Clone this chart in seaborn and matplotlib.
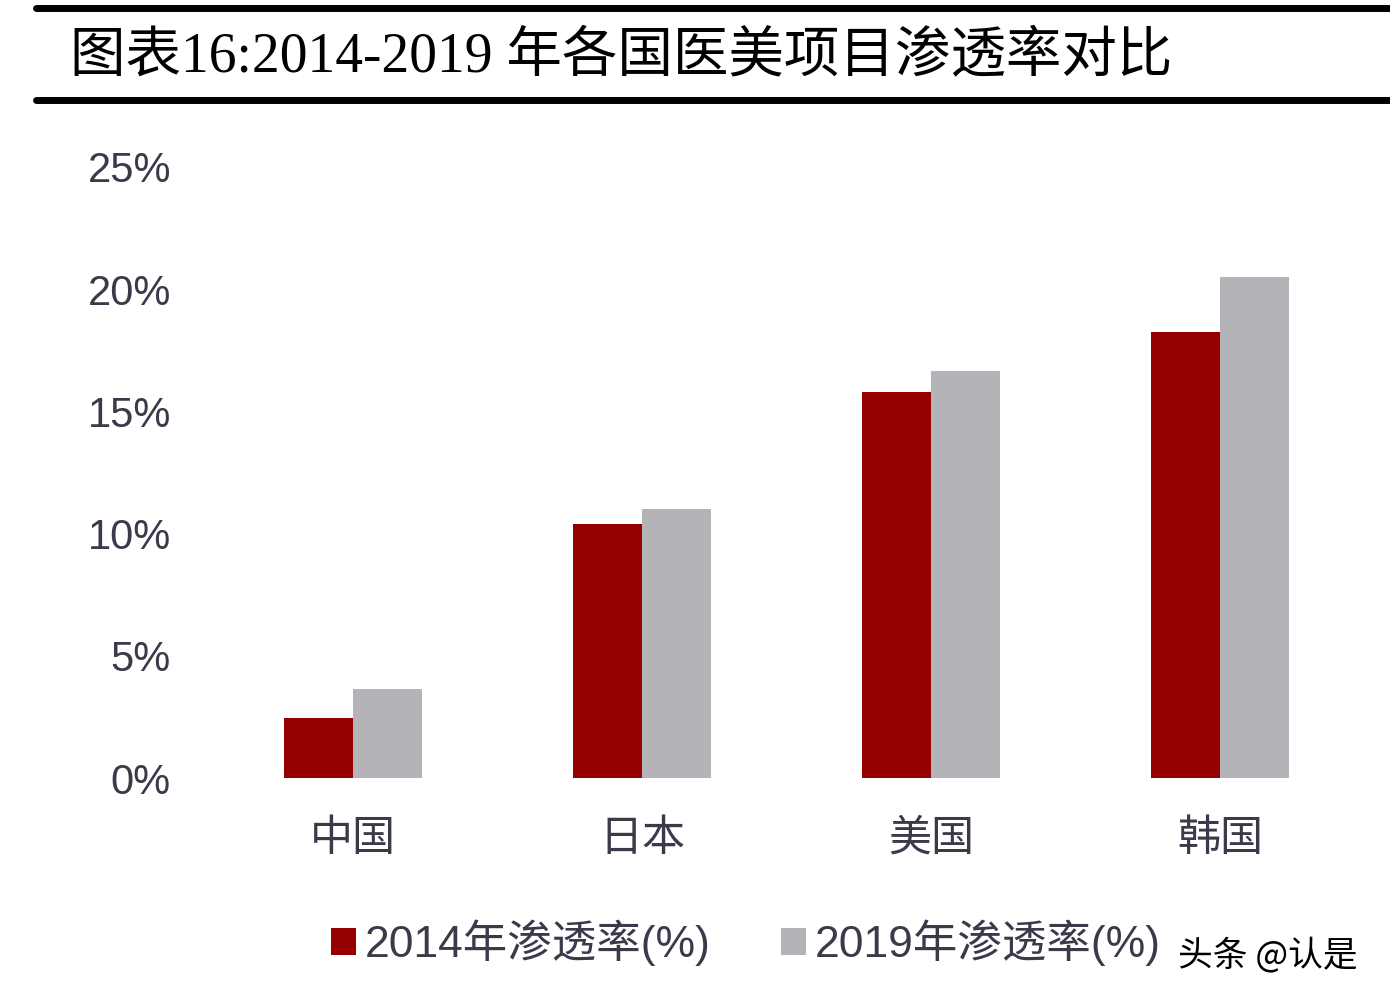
import pandas as pd
import matplotlib.pyplot as plt
import seaborn as sns
from matplotlib import font_manager
from matplotlib.lines import Line2D

# Data (percent)
countries = ['中国', '日本', '美国', '韩国']
rate_2014 = [2.45, 10.4, 15.8, 18.25]
rate_2019 = [3.65, 11.0, 16.65, 20.5]
series_names = ['2014年渗透率(%)', '2019年渗透率(%)']
yticks = [0, 5, 10, 15, 20, 25]

sns.set_style('white')
cjk = 'Noto Sans CJK SC'
names = {f.name for f in font_manager.fontManager.ttflist}
num_font = 'Liberation Sans Narrow' if 'Liberation Sans Narrow' in names else 'Liberation Sans'
plt.rcParams['font.family'] = [cjk, 'DejaVu Sans']

df = pd.DataFrame({
    'country': countries * 2,
    'rate': rate_2014 + rate_2019,
    'series': [series_names[0]] * 4 + [series_names[1]] * 4,
})

fig = plt.figure(figsize=(13.9, 10.02), dpi=100)
ax = fig.add_axes([208.5 / 1390, 1 - 778 / 1002, 1156 / 1390, (778 - 167) / 1002])

sns.barplot(data=df, x='country', y='rate', hue='series',
            palette=['#960000', '#b3b3b8'], width=0.48, gap=0,
            linewidth=0, saturation=1, ax=ax)

ax.set_xlim(-0.5, 3.5)
ax.set_ylim(0, 25)
ax.set_yticks(yticks)
ax.set_yticklabels([f'{v}%' for v in yticks], family=[num_font, cjk],
                   fontsize=30, color='#3a3a4a')
ax.set_xticks(range(len(countries)))
ax.set_xticklabels(countries, fontsize=31, color='#3a3a4a')
ax.tick_params(axis='y', length=0, pad=27)
ax.tick_params(axis='x', length=0, pad=28)
ax.set_xlabel('')
ax.set_ylabel('')
sns.despine(ax=ax, left=True, bottom=True)

handles, labels = ax.get_legend_handles_labels()
ax.legend(handles, labels, loc='center', bbox_to_anchor=(746 / 1390, 1 - 943 / 1002),
          bbox_transform=fig.transFigure, ncol=2, frameon=False,
          prop={'family': [num_font, cjk], 'size': 32},
          labelcolor='#3a3a4a', handlelength=0.55, handleheight=0.55,
          handletextpad=0.2, columnspacing=1.6)

# title block with rules
fig.add_artist(Line2D([36 / 1390, 1], [1 - 7.5 / 1002] * 2, color='black', lw=5))
fig.add_artist(Line2D([36 / 1390, 1], [1 - 99.5 / 1002] * 2, color='black', lw=5))
fig.text(70 / 1390, 1 - 58 / 1002, '图表16:2014-2019 年各国医美项目渗透率对比',
         family=['Liberation Serif', cjk], fontsize=40, color='black',
         ha='left', va='center')

fig.text(1178 / 1390, 1 - 955 / 1002, '头条 @认是', fontsize=25, color='black',
         ha='left', va='center')

fig.savefig('out.png', dpi=100, facecolor='white')
